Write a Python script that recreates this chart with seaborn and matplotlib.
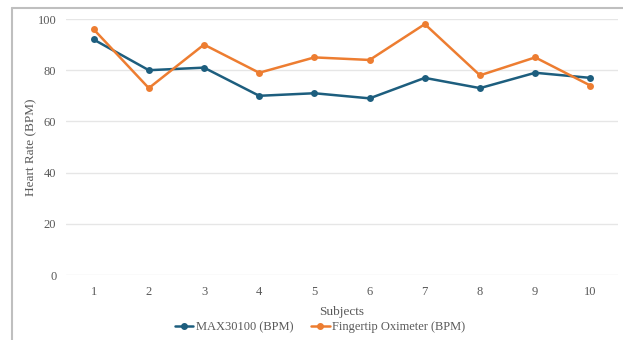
import matplotlib
matplotlib.use("Agg")
import matplotlib.pyplot as plt
from matplotlib.lines import Line2D
import seaborn as sns
import pandas as pd

subjects = [1, 2, 3, 4, 5, 6, 7, 8, 9, 10]
max30100_bpm = [92, 80, 81, 70, 71, 69, 77, 73, 79, 77]
oximeter_bpm = [96, 73, 90, 79, 85, 84, 98, 78, 85, 74]
series_names = ["MAX30100 (BPM)", "Fingertip Oximeter (BPM)"]
y_ticks = [0, 20, 40, 60, 80, 100]

colors = ["#1d5e7e", "#ed7d31"]
text_color = "#595959"

df = pd.DataFrame({
    "Subjects": subjects * 2,
    "BPM": max30100_bpm + oximeter_bpm,
    "Series": [series_names[0]] * len(subjects) + [series_names[1]] * len(subjects),
})

sns.set_theme(style="white")
plt.rcParams["font.family"] = ["Liberation Serif", "DejaVu Serif"]

fig = plt.figure(figsize=(6.23, 3.40), dpi=100)
ax = fig.add_axes([66 / 623, 1 - 275 / 340, (618 - 66) / 623, (275 - 19) / 340])

sns.lineplot(data=df, x="Subjects", y="BPM", hue="Series", palette=colors,
             marker="o", markersize=5, markeredgewidth=0, linewidth=1.8,
             ax=ax, legend=False)

ax.set_xlim(0.5, 10.5)
ax.set_ylim(0, 100)
ax.set_yticks(y_ticks)
ax.set_xticks(subjects)
ax.set_xticklabels([str(s) for s in subjects])
for s in ax.spines.values():
    s.set_visible(False)
ax.yaxis.grid(True, color="#e6e6e6", linewidth=1)
ax.set_axisbelow(True)
ax.tick_params(axis="both", length=0, labelsize=9, colors=text_color)
ax.tick_params(axis="y", pad=7)
ax.tick_params(axis="x", pad=8)
ax.set_xlabel("Subjects", fontsize=9.5, color=text_color, labelpad=6)
ax.set_ylabel("Heart Rate (BPM)", fontsize=9.5, color=text_color, labelpad=0)

handles = [Line2D([0], [0], color=c, marker="o", markersize=4, linewidth=1.8) for c in colors]
fig.legend(handles, series_names, loc="center", bbox_to_anchor=(320 / 623, 1 - 327 / 340),
           ncol=2, frameon=False, fontsize=9, handlelength=1.5, handletextpad=0.2,
           columnspacing=1.4, labelcolor=text_color)

# outer chart frame (left and top edges visible)
fig.add_artist(Line2D([12 / 623, 12 / 623], [0, 1 - 8 / 340], transform=fig.transFigure,
                      color="#bfbfbf", linewidth=1.5))
fig.add_artist(Line2D([12 / 623, 1], [1 - 8 / 340, 1 - 8 / 340], transform=fig.transFigure,
                      color="#bfbfbf", linewidth=1.5))

fig.savefig("out.png", dpi=100)
